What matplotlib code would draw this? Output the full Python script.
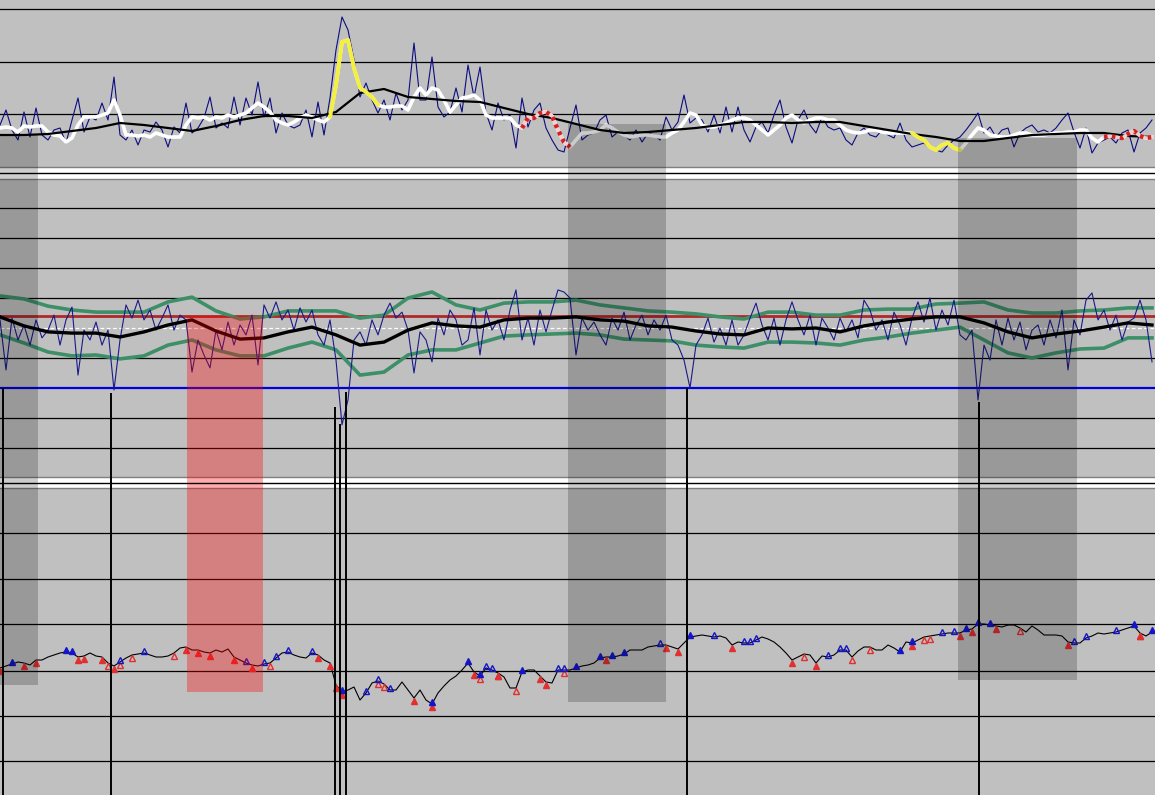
import numpy as np
import matplotlib
matplotlib.use("Agg")
import matplotlib.pyplot as plt
from matplotlib.patches import Rectangle
from matplotlib.lines import Line2D

# ---------- data (bar index = one sample, 193 bars) ----------
TOP_RAW = [
    42, 57, 37, 27, 55, 30, 59, 32, 27, 37,
    39, 24, 47, 69, 35, 50, 47, 64, 47, 90,
    32, 27, 37, 22, 37, 35, 45, 37, 20, 40,
    34, 64, 34, 39, 49, 70, 39, 44, 39, 70,
    42, 69, 52, 85, 50, 69, 34, 54, 42, 39,
    42, 57, 30, 65, 32, 69, 117, 150, 137, 107,
    70, 84, 67, 54, 67, 47, 74, 57, 67, 124,
    67, 67, 110, 60, 50, 55, 79, 55, 102, 70,
    100, 54, 37, 64, 47, 52, 19, 69, 40, 57,
    64, 39, 27, 17, 15, 39, 62, 27, 32, 34,
    47, 52, 30, 35, 32, 27, 37, 25, 34, 32,
    27, 50, 37, 45, 72, 44, 49, 47, 35, 52,
    34, 60, 35, 60, 37, 25, 40, 45, 34, 52,
    67, 40, 24, 47, 57, 42, 34, 50, 40, 37,
    39, 27, 22, 34, 39, 32, 30, 37, 32, 29,
    44, 27, 20, 22, 24, 19, 17, 15, 22, 27,
    30, 37, 45, 54, 34, 40, 30, 37, 39, 20,
    34, 39, 42, 35, 37, 34, 39, 47, 54, 35,
    19, 39, 14, 24, 27, 30, 24, 34, 37, 15,
    34, 39, 47,
]
TOP_FAST = [
    39, 40, 39, 35, 41, 40, 41, 41, 35, 32,
    31, 25, 29, 42, 50, 50, 50, 52, 54, 67,
    52, 32, 32, 31, 32, 30, 34, 32, 30, 30,
    30, 42, 50, 49, 50, 47, 50, 49, 52, 50,
    52, 54, 59, 64, 60, 55, 47, 44, 42, 45,
    49, 52, 50, 47, 45, 50, 82, 125, 127, 99,
    79, 75, 70, 62, 60, 60, 61, 61, 57, 70,
    79, 72, 79, 77, 67, 55, 62, 69, 70, 72,
    67, 52, 49, 49, 49, 49, 42, 39, 49, 49,
    54, 55, 51, 37, 25, 20, 27, 34, 34, 35,
    37, 42, 39, 35, 32, 30, 31, 32, 32, 31,
    30, 30, 34, 37, 45, 54, 52, 42, 40, 40,
    42, 44, 47, 49, 49, 47, 42, 37, 32, 37,
    42, 49, 52, 47, 44, 47, 49, 49, 47, 47,
    42, 37, 35, 34, 35, 37, 37, 35, 34, 34,
    34, 34, 34, 30, 27, 20, 17, 22, 24, 19,
    17, 24, 32, 39, 37, 32, 31, 30, 30, 32,
    34, 34, 32, 32, 32, 33, 34, 34, 35, 35,
    37, 37, 29, 25, 30, 31, 30, 29, 33, 36,
    31, 29, 30,
]
# slow averages are sampled every KNOT bars
KNOT = 4
TOP_SLOW = [32, 32, 33, 36, 39, 44, 42, 39, 36, 41,
            47, 51, 51, 49, 55, 74, 78, 70, 68, 66,
            65, 59, 53, 49, 43, 37, 34, 35, 37, 39,
            42, 45, 45, 44, 45, 45, 41, 37, 33, 30,
            26, 26, 29, 32, 33, 34, 34, 31, 30]
YELLOW_RUNS = [(55, 63), (152, 160)]
RED_RUNS = [(87, 95), (184, 192)]
TOP_LEVELS = [53, 105, 158]

OSC = [
    2.7, -14, 3.3, -4, 1, -5.7, 2.7, -3.3, -0.7, 4.3,
    -5.7, 2.7, 7, -15.7, -0.7, -4, 2, -5.7, -0.7, -20.7,
    -4, 7.7, 3.3, 9.3, 2.7, 6, -0.7, 3.3, 7.7, -0.7,
    4.3, 2.7, -14.7, -4, -9, -13.3, -0.7, -7.3, 2, -5.7,
    1, -2.3, 4.3, -12.3, 7.7, 3.3, 8.7, 2.7, 6, -0.7,
    6.7, 2, 6, -2.3, -5.7, 2.7, -10.7, -32.3, -24, -4,
    -1.3, -5.7, 2.7, -2.3, 4.3, 8.3, 3.3, 5.3, -0.7, -15,
    -1.3, -4, -11.3, 3.3, -2.3, 6, 2.7, -5.7, -4, 6.7,
    -9, 6, -0.7, 2.7, -4, 6, 12.7, -4, 3.3, -5.7,
    6, -1.3, 6, 12.7, 12, 10, -9, 3.3, -0.7, 2,
    -2.3, -5.7, 3.3, -0.7, 5.3, -4, 1, 4.3, -2.3, 2.7,
    -0.7, 4.3, -4, -5.7, -10.7, -20, -5.7, -2.3, 3.3, -4.7,
    0, -5.7, 2.7, -5.7, -2.3, 3.3, 8.3, 1, -4, 3.3,
    -5.7, 2.7, 8.7, 2.7, -2.3, 4.3, -5.7, 3.3, 0, -4,
    3.3, -1.3, 2.7, -3.3, 9.3, 6, -0.7, 2.7, -4, 5.3,
    1, -5.7, 3.3, 8.7, 2, 10, -0.7, 6, 1, 9.3,
    -2.3, -4, -0.7, -24, -5.7, -10.7, 2.7, -5.7, 3.3, -4,
    2, -7.3, -0.7, 1, -5.7, 2.7, -3.3, 6, -14, 2.7,
    -2.3, 9.3, 11.7, 2.7, 6, -0.7, 4.3, -4, 2, 3.3,
    9.3, 2.7, -11.3,
]
OSC_MA = [3.7, 0.7, -1.3, -1.7, -1.7, -3, -1.3, 1, 2.7, -1,
          -3.7, -3.3, -1.3, 0.3, -2.3, -5.7, -4.7, -0.7, 1.7, 0.7,
          0.3, 2.7, 3.3, 3.3, 3.7, 2.7, 2.3, 0.7, 0.3, -1,
          -2, -2.3, 0, -0.3, 0, -1.3, 0.7, 2, 3, 3.7,
          3.7, 1.7, -1.3, -3.3, -2, -1, 0.3, 1.7, 1]
OSC_UPPER = [10.7, 9.7, 7.3, 6, 5.3, 5.3, 5.3, 8.7, 10.3, 5.7,
             3, 3.7, 5.7, 5.7, 5.7, 3.3, 4.3, 10, 12, 7.7,
             6, 8.3, 8.7, 8.7, 9.3, 7.7, 6.7, 5.7, 5.3, 4.7,
             3.7, 3, 5.3, 5.3, 4.3, 4.3, 6, 6.3, 6.3, 8,
             8.3, 8.7, 6, 5, 5, 5.7, 6, 6.7, 6.7]
OSC_LOWER = [-2.3, -5, -8, -9.3, -9, -10.3, -9.3, -5.7, -4, -7.3,
             -9.3, -9.3, -6.7, -4.7, -7.3, -15.7, -14.7, -9, -7.3, -7.3,
             -5, -2.7, -2.3, -2, -1.7, -2.3, -3.7, -4, -4.3, -5.7,
             -6.3, -6.7, -4.7, -4.7, -5, -5.7, -4, -3, -1.7, -0.7,
             0.3, -4, -8.3, -10, -8.3, -7, -6.7, -3.3, -3.3]
OSC_GRID = [40, 30, 20, 10, -10, -30, -40]
OSC_UPPER_LEVEL = 4
OSC_TRIGGER = -20

PRICE = [
    93, 95, 97, 99, 98, 96, 101, 101, 104, 106,
    108, 109, 108, 104, 105, 108, 105, 104, 98, 95,
    99, 103, 106, 107, 108, 106, 104, 104, 105, 108,
    113, 114, 111, 111, 109, 108, 111, 109, 112, 104,
    101, 98, 96, 95, 97, 98, 103, 108, 109, 106,
    104, 103, 108, 106, 101, 98, 76, 69, 71, 74,
    61, 68, 78, 80, 77, 71, 71, 79, 71, 63,
    71, 61, 57, 68, 75, 81, 85, 91, 98, 89,
    85, 93, 91, 88, 84, 73, 73, 89, 91, 91,
    85, 79, 78, 91, 91, 91, 93, 95, 96, 98,
    103, 104, 104, 105, 107, 111, 111, 111, 114, 115,
    116, 116, 114, 112, 118, 124, 125, 126, 125, 124,
    125, 123, 116, 119, 118, 118, 121, 124, 122, 119,
    114, 108, 101, 104, 107, 106, 98, 105, 104, 106,
    111, 111, 104, 110, 114, 114, 111, 111, 116, 113,
    109, 119, 118, 121, 124, 125, 126, 127, 128, 128,
    128, 131, 132, 137, 137, 136, 135, 134, 136, 136,
    133, 129, 135, 131, 126, 126, 126, 125, 119, 118,
    118, 123, 125, 128, 127, 128, 129, 131, 133, 135,
    128, 125, 129,
]
PRICE_GRID = [0, 45, 90, 137, 182, 228]
BUY_FILLED = [2, 11, 12, 57, 72, 78, 80, 87, 96, 100, 102, 104, 115,
              150, 152, 161, 163, 165, 189, 192]
SELL_FILLED = [0, 4, 6, 13, 14, 17, 19, 31, 33, 35, 39, 42, 53, 55, 56, 57,
               69, 72, 79, 83, 90, 91, 101, 111, 113, 122, 132, 136, 152,
               160, 162, 166, 178, 190]
BUY_OPEN = [20, 24, 41, 44, 46, 48, 52, 61, 63, 65, 81, 82, 93, 94, 110,
            119, 124, 125, 126, 138, 140, 141, 157, 159, 179, 181, 186]
SELL_OPEN = [18, 20, 22, 29, 45, 63, 64, 80, 83, 86, 94, 134, 142, 145,
             154, 155, 170, 190]

# shaded regimes: bar range, top (top-panel units), bottom (price units)
GRAY_SPANS = [(0, 6.3), (94.7, 111), (159.7, 179.5)]
GRAY_TOPS = [32, 43, 29]
GRAY_BOTTOMS = [76, 59, 81]
RED_SPAN = (31.2, 43.8)
RED_TOP = 4        # oscillator units
RED_BOTTOM = 69    # price units

SIGNAL_BARS = [0.5, 18.5, 55.8, 56.6, 57.7, 114.5, 163.2]
SIGNAL_LEVELS = [-20, -21.7, -26.3, -32, -21.3, -20, -24.7]

XLIM = (0, 192.5)
SILVER = "#c0c0c0"


def style(ax, spines):
    ax.set_facecolor(SILVER)
    ax.set_xlim(*XLIM)
    ax.set_xticks([])
    ax.set_yticks([])
    for k, s in ax.spines.items():
        s.set_visible(k in spines)
        s.set_color("#7f7f7f")
        s.set_linewidth(1.0)


def main():
    W, H = 1155, 795
    fig = plt.figure(figsize=(W / 100, H / 100), dpi=100, facecolor="white")

    ax_top = fig.add_axes([0, 1 - 167 / H, 1, 167 / H])
    ax_mid = fig.add_axes([0, 1 - 477 / H, 1, 298 / H])
    ax_bot = fig.add_axes([0, 0, 1, 307 / H])
    style(ax_top, ["bottom"])
    style(ax_mid, ["top", "bottom"])
    style(ax_bot, ["top"])

    # separators between panels
    for yf in (1 - 173 / H, 1 - 482.5 / H):
        fig.add_artist(Line2D([0, 1], [yf, yf], color="black", lw=1.0,
                              transform=fig.transFigure))

    # ---------- top panel ----------
    x = np.arange(len(TOP_RAW))
    xf = np.arange(len(TOP_FAST))
    xk = np.arange(len(TOP_SLOW)) * KNOT
    fast = np.array(TOP_FAST, dtype=float)
    ax_top.set_ylim(0, 167)
    for lv in TOP_LEVELS:
        ax_top.axhline(lv, color="black", lw=0.9, zorder=1)
    ax_top.plot(x, TOP_RAW, color="#0c0c80", lw=0.8, zorder=2)
    ax_top.plot(xf, fast, color="white", lw=2.6, zorder=3)
    ax_top.plot(xk, TOP_SLOW, color="black", lw=1.6, zorder=4)
    for a, b in YELLOW_RUNS:
        ax_top.plot(xf[a:b + 1], fast[a:b + 1], color="#f4f040", lw=2.8,
                    zorder=5, solid_capstyle="round")
    for a, b in RED_RUNS:
        ax_top.plot(xf[a:b + 1], fast[a:b + 1], color="#f0d0d0", lw=2.4,
                    zorder=5)
        ax_top.plot(xf[a:b + 1], fast[a:b + 1], color="#d42020", lw=3.2,
                    ls=(0, (0.8, 1.0)), zorder=6)

    # ---------- middle panel ----------
    xo = np.arange(len(OSC))
    xm = np.arange(len(OSC_MA)) * KNOT
    ax_mid.set_ylim(-49.7, 49.7)
    for lv in OSC_GRID:
        ax_mid.axhline(lv, color="black", lw=0.9, zorder=1)
    ax_mid.axhline(0, color="white", lw=0.9, ls=(0, (3, 2)), zorder=1)
    ax_mid.axhline(OSC_UPPER_LEVEL, color="#b02828", lw=2.0, zorder=1.5)
    ax_mid.axhline(OSC_TRIGGER, color="#0000dd", lw=1.6, zorder=1.5)
    ax_mid.plot(xm, OSC_UPPER, color="#3d8f68", lw=2.6, zorder=2)
    ax_mid.plot(xm, OSC_LOWER, color="#3d8f68", lw=2.6, zorder=2)
    ax_mid.plot(xo, OSC, color="#1a1a8a", lw=0.8, zorder=3)
    ax_mid.plot(xm, OSC_MA, color="black", lw=2.4, zorder=4)

    # ---------- bottom panel ----------
    price = np.array(PRICE, dtype=float)
    xp = np.arange(len(price))
    ax_bot.set_ylim(-34, 273)
    for lv in PRICE_GRID:
        ax_bot.axhline(lv, color="black", lw=0.9, zorder=1)
    ax_bot.plot(xp, price, color="black", lw=0.8, zorder=2)
    mk = dict(marker="^", ls="none", ms=5, zorder=3)
    ax_bot.plot(xp[SELL_OPEN], price[SELL_OPEN] - 3, mfc="none", mec="#e03030",
                mew=1.0, **mk)
    ax_bot.plot(xp[BUY_OPEN], price[BUY_OPEN] + 2, mfc="none", mec="#1515c8",
                mew=1.0, **mk)
    ax_bot.plot(xp[SELL_FILLED], price[SELL_FILLED] - 3, color="#e03030", **mk)
    ax_bot.plot(xp[BUY_FILLED], price[BUY_FILLED] + 2, color="#1515c8", **mk)

    # ---------- overlay: regimes and signals across panels ----------
    ov = fig.add_axes([0, 0, 1, 1])
    ov.set_xlim(*XLIM)
    ov.set_ylim(0, 1)
    ov.axis("off")
    ov.patch.set_visible(False)
    inv = fig.transFigure.inverted()

    def fy(ax, v):
        return inv.transform(ax.transData.transform((0, v)))[1]

    for (a, b), t, btm in zip(GRAY_SPANS, GRAY_TOPS, GRAY_BOTTOMS):
        y0, y1 = fy(ax_bot, btm), fy(ax_top, t)
        ov.add_patch(Rectangle((a, y0), b - a, y1 - y0, facecolor="black",
                               alpha=0.2, lw=0, zorder=2))
    y0, y1 = fy(ax_bot, RED_BOTTOM), fy(ax_mid, RED_TOP)
    ov.add_patch(Rectangle((RED_SPAN[0], y0), RED_SPAN[1] - RED_SPAN[0],
                           y1 - y0, facecolor="red", alpha=0.33, lw=0,
                           zorder=2))
    for xb, lv in zip(SIGNAL_BARS, SIGNAL_LEVELS):
        ov.vlines(xb, 0, fy(ax_mid, lv), color="black", lw=1.4, zorder=3)

    fig.savefig("out.png", dpi=100, facecolor="white")


if __name__ == "__main__":
    main()
